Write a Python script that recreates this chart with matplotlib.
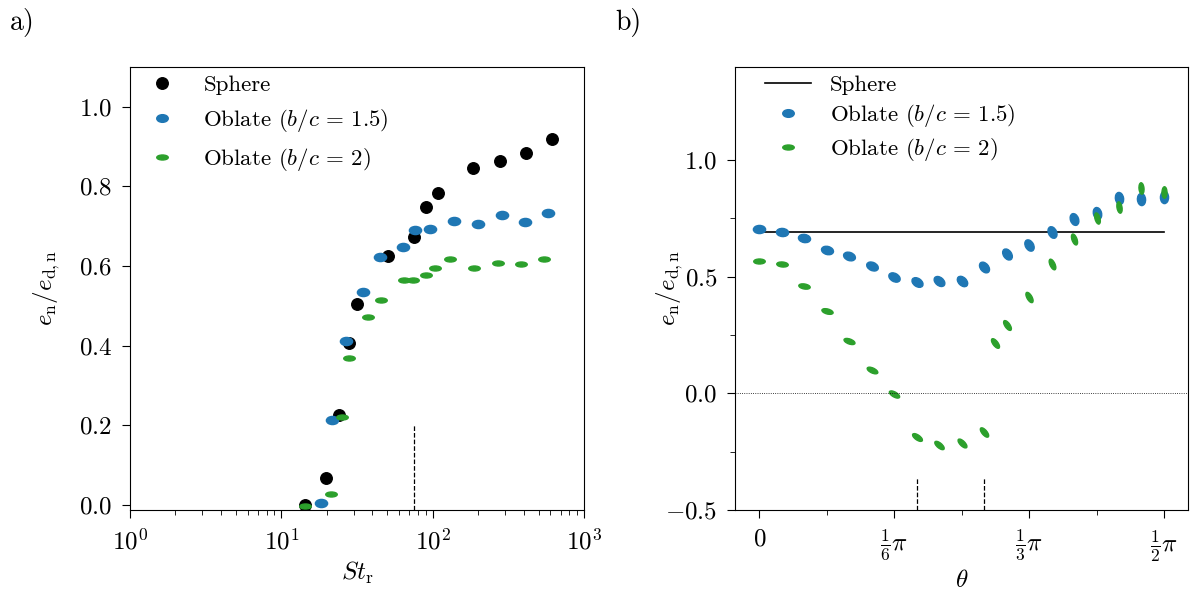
import numpy as np
import matplotlib
matplotlib.use("Agg")
import matplotlib.pyplot as plt
from matplotlib.markers import MarkerStyle
from matplotlib.transforms import Affine2D
from matplotlib.lines import Line2D

plt.rcParams['font.family'] = 'serif'
plt.rcParams['font.serif'] = ['cmr10']
plt.rcParams['mathtext.fontset'] = 'cm'
plt.rcParams['axes.formatter.use_mathtext'] = True
plt.rcParams['axes.unicode_minus'] = True

# ---- panel a) data: restitution vs Stokes number
st_sphere = [14.3, 19.6, 24.0, 28.2, 31.7, 50.6, 75.2, 89.9, 109, 186, 278, 413, 614]
e_sphere = [0.0, 0.068, 0.226, 0.407, 0.505, 0.626, 0.673, 0.749, 0.783, 0.845, 0.864, 0.885, 0.919]

st_ob15 = [18.4, 21.7, 26.9, 34.6, 44.8, 63.6, 76.8, 96.5, 138, 200, 285, 406, 580]
e_ob15 = [0.006, 0.213, 0.412, 0.534, 0.622, 0.648, 0.690, 0.693, 0.713, 0.706, 0.727, 0.710, 0.734]

st_ob2 = [14.3, 21.4, 25.2, 28.2, 37.3, 45.9, 64.6, 74.5, 90.8, 103, 131, 188, 269, 383, 546]
e_ob2 = [-0.002, 0.027, 0.222, 0.369, 0.471, 0.514, 0.566, 0.565, 0.578, 0.595, 0.617, 0.595, 0.608, 0.604, 0.618]

st_crit = 75

# ---- panel b) data: restitution vs impact angle (degrees)
th_ob15 = [0, 5, 10, 15, 20, 25, 30, 35, 40, 45, 50, 55, 60, 65, 70, 75, 80, 85, 90]
e_th_ob15 = [0.703, 0.693, 0.668, 0.616, 0.591, 0.547, 0.501, 0.478, 0.483, 0.484,
             0.544, 0.599, 0.638, 0.691, 0.749, 0.772, 0.836, 0.832, 0.844]

th_ob2 = [0, 5, 10, 15, 20, 25, 30, 35, 40, 45, 50, 52.5, 55, 60, 65, 70, 75, 80, 85, 90]
e_th_ob2 = [0.566, 0.555, 0.461, 0.353, 0.223, 0.099, -0.001, -0.188, -0.221, -0.214,
            -0.167, 0.217, 0.292, 0.415, 0.555, 0.664, 0.753, 0.800, 0.882, 0.865]

e_th_sphere = 0.69
th_crit = [35, 50]

c_blue = '#1f77b4'
c_green = '#2ca02c'
ar15 = 1.5
ar2 = 2.3
ms = 8.3
fs = 18
leg_fs = 16.5


def ellipse(ar, rot=0.0):
    return MarkerStyle('o', transform=Affine2D().scale(1, 1.0 / ar).rotate_deg(-rot))


fig = plt.figure(figsize=(11.92, 5.92), dpi=100)
ax1 = fig.add_axes([0.109, 0.1385, 0.381, 0.7485])
ax2 = fig.add_axes([0.617, 0.1385, 0.3796, 0.7485])

# ---------------- panel a)
ax1.plot(st_sphere, e_sphere, 'o', color='k', ms=ms)
ax1.plot(st_ob15, e_ob15, ls='none', marker=ellipse(ar15), color=c_blue, ms=ms + 0.5)
ax1.plot(st_ob2, e_ob2, ls='none', marker=ellipse(ar2), color=c_green, ms=ms)
ax1.vlines(st_crit, -0.0125, 0.2, colors='k', linestyles='--', lw=0.9)
ax1.set_xscale('log')
ax1.set_xlim(1, 1000)
ax1.set_ylim(-0.0125, 1.1)
ax1.set_yticks([0.0, 0.2, 0.4, 0.6, 0.8, 1.0])
ax1.set_xlabel(r'$St_\mathrm{r}$', fontsize=fs)
ax1.set_ylabel(r'$e_\mathrm{n}/e_\mathrm{d,n}$', fontsize=fs)
ax1.yaxis.set_label_coords(-0.15, 0.5)

labels = ['Sphere', r'Oblate ($b/c\,=\,1.5$)', r'Oblate ($b/c\,=\,2$)']
h1 = [Line2D([], [], ls='none', marker='o', color='k', ms=ms),
      Line2D([], [], ls='none', marker=ellipse(ar15), color=c_blue, ms=ms),
      Line2D([], [], ls='none', marker=ellipse(ar2), color=c_green, ms=ms)]
ax1.legend(h1, labels, loc='upper left', bbox_to_anchor=(0.0, 1.003), borderaxespad=0,
           frameon=False, fontsize=leg_fs, labelspacing=0.52)

# ---------------- panel b)
th15 = np.radians(th_ob15)
th2 = np.radians(th_ob2)
ax2.plot([0, np.pi / 2], [e_th_sphere, e_th_sphere], color='k', lw=1.2)
for t, e, d in zip(th15, e_th_ob15, th_ob15):
    ax2.plot(t, e, ls='none', marker=ellipse(ar15, d), color=c_blue, ms=ms + 0.5)
for t, e, d in zip(th2, e_th_ob2, th_ob2):
    ax2.plot(t, e, ls='none', marker=ellipse(ar2, d), color=c_green, ms=ms)
ax2.axhline(0, color='k', ls=':', lw=0.6)
ax2.vlines(np.radians(th_crit), -0.5, -0.36, colors='k', linestyles='--', lw=0.9)
ax2.set_xlim(-0.093, 1.664)
ax2.set_ylim(-0.5, 1.4)
ax2.set_xticks([0, np.pi / 6, np.pi / 3, np.pi / 2])
ax2.set_xticklabels([r'$0$', r'$\frac{1}{6}\pi$', r'$\frac{1}{3}\pi$', r'$\frac{1}{2}\pi$'])
ax2.set_xticks([np.pi / 12, np.pi / 4, 5 * np.pi / 12], minor=True)
ax2.set_yticks([-0.5, 0.0, 0.5, 1.0])
ax2.set_yticks([-0.25, 0.25, 0.75], minor=True)
ax2.set_xlabel(r'$\theta$', fontsize=fs)
ax2.set_ylabel(r'$e_\mathrm{n}/e_\mathrm{d,n}$', fontsize=fs)
ax2.yaxis.set_label_coords(-0.112, 0.5)

h2 = [Line2D([], [], color='k', lw=1.2),
      Line2D([], [], ls='none', marker=ellipse(ar15), color=c_blue, ms=ms),
      Line2D([], [], ls='none', marker=ellipse(ar2), color=c_green, ms=ms)]
ax2.legend(h2, labels, loc='upper left', bbox_to_anchor=(0.046, 1.003), borderaxespad=0,
           frameon=False, fontsize=leg_fs, labelspacing=0.3)

for ax in (ax1, ax2):
    ax.tick_params(which='major', labelsize=fs, length=6, pad=7)
    ax.tick_params(which='minor', length=3.5)

fig.text(0.008, 0.987, 'a)', fontsize=20, va='top')
fig.text(0.516, 0.987, 'b)', fontsize=20, va='top')

fig.savefig('out.png', dpi=100)
